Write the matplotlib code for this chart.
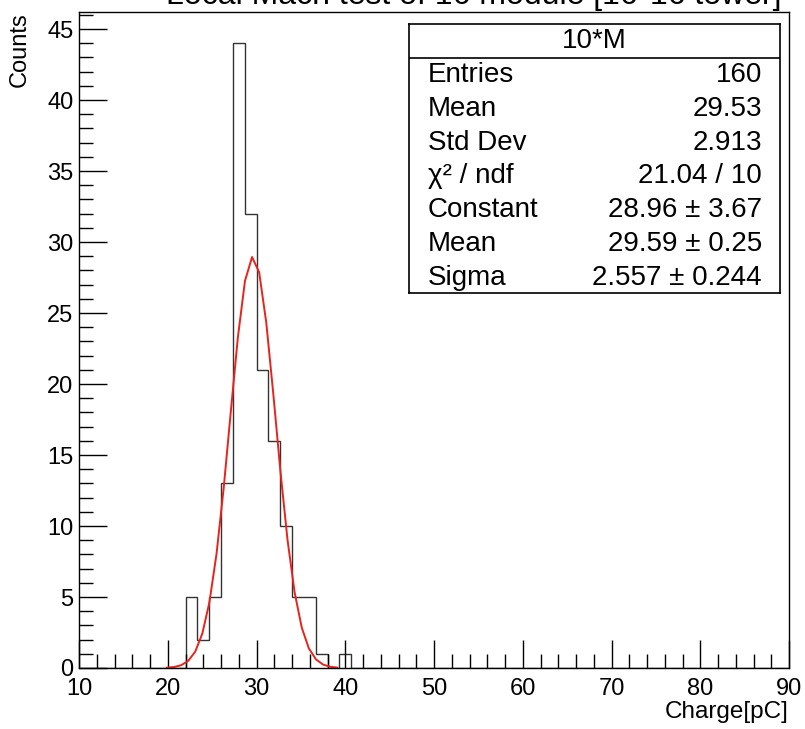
import numpy as np
import matplotlib
matplotlib.use('Agg')
import matplotlib.pyplot as plt

plt.rcParams['font.family'] = ['Liberation Sans', 'DejaVu Sans']

# histogram: 60 bins from 10 to 90
bin_lo = 10
bin_hi = 90
n_bins = 60
# first filled bin starts at 22 pC
first_bin = 9
counts = [5, 2, 5, 13, 44, 32, 21, 16, 10, 5, 5, 1, 0, 1]

# gaussian fit parameters and drawn range
fit_const = 28.96
fit_mean = 29.59
fit_sigma = 2.557
fit_lo = 19.9
fit_hi = 39.1

stat_names = ['Entries', 'Mean', 'Std Dev', 'χ² / ndf', 'Constant', 'Mean', 'Sigma']
stat_values = ['160', '29.53', '2.913', '21.04 / 10', '28.96 ± 3.67', '29.59 ± 0.25', '2.557 ± 0.244']

W, H = 805, 729
fig = plt.figure(figsize=(W / 100, H / 100), dpi=100)
ax = fig.add_axes([79 / W, 1 - 668 / H, (789 - 79) / W, (668 - 12) / H])

edges = np.linspace(bin_lo, bin_hi, n_bins + 1)
full = np.zeros(n_bins)
full[first_bin:first_bin + len(counts)] = counts
ax.stairs(full, edges, color='#333333', lw=1.0)

# fit curve, coarse polyline like ROOT
xf = np.linspace(fit_lo, fit_hi, 25)
yf = fit_const * np.exp(-0.5 * ((xf - fit_mean) / fit_sigma) ** 2)
ax.plot(xf, yf, color='#e8231b', lw=1.4)

ax.set_xlim(bin_lo, bin_hi)
ax.set_ylim(0, 46.2)
ax.set_xticks(np.arange(10, 91, 10))
ax.set_xticks(np.arange(10, 91, 2), minor=True)
ax.set_yticks(np.arange(0, 46, 5))
ax.set_yticks(np.arange(0, 47, 1), minor=True)
ax.tick_params(which='both', direction='in', top=False, right=False, width=1, labelsize=17, color='black')
ax.tick_params(which='major', length=20)
ax.tick_params(which='minor', length=10)
ax.tick_params(axis='x', pad=7)
ax.tick_params(axis='y', pad=4)
for s in ax.spines.values():
    s.set_linewidth(1)

fig.text(789 / W, 1 - 712 / H, 'Charge[pC]', ha='right', va='center', fontsize=17.5)
fig.text(20 / W, 1 - 12 / H, 'Counts', ha='center', va='top', rotation=90, fontsize=17)

# title, mostly above the canvas
fig.text(474 / W, 1 - 4 / H, 'Local Mach test of 16 module [16*16 tower]',
         ha='center', va='baseline', fontsize=23)

# stats box
bx = fig.add_axes([409 / W, 1 - 293 / H, (780 - 409) / W, (293 - 24) / H])
bx.set_xlim(409, 780)
bx.set_ylim(293, 24)
bx.set_xticks([])
bx.set_yticks([])
bx.set_facecolor('white')
for s in bx.spines.values():
    s.set_linewidth(1.2)
bx.axhline(58, color='black', lw=1.2)
bx.text(594, 41, '10*M', ha='center', va='center', fontsize=20)
for i, (n, v) in enumerate(zip(stat_names, stat_values)):
    y = 75 + i * 33.8
    bx.text(428, y, n, ha='left', va='center', fontsize=20)
    bx.text(762, y, v, ha='right', va='center', fontsize=20)

fig.savefig('out.png', dpi=100)
